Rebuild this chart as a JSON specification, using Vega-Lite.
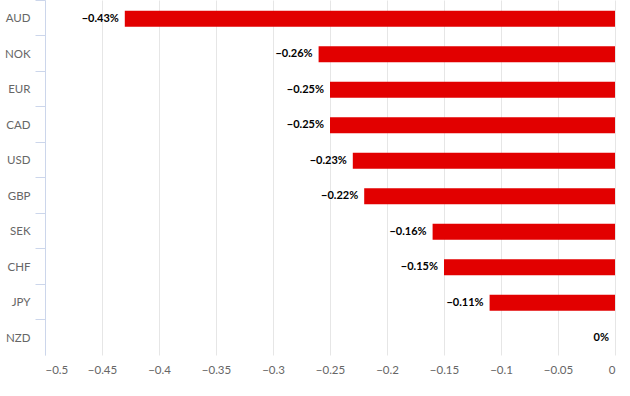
{
  "$schema": "https://vega.github.io/schema/vega-lite/v6.json",
  "width": 570,
  "height": 355,
  "autosize": "none",
  "padding": {"left": 45, "top": 0, "right": 15, "bottom": 41},
  "background": "#ffffff",
  "config": {
    "view": {"stroke": null},
    "font": "Lato"
  },
  "data": {
    "values": [
      {"currency": "AUD", "change": -0.43, "label": "−0.43%"},
      {"currency": "NOK", "change": -0.26, "label": "−0.26%"},
      {"currency": "EUR", "change": -0.25, "label": "−0.25%"},
      {"currency": "CAD", "change": -0.25, "label": "−0.25%"},
      {"currency": "USD", "change": -0.23, "label": "−0.23%"},
      {"currency": "GBP", "change": -0.22, "label": "−0.22%"},
      {"currency": "SEK", "change": -0.16, "label": "−0.16%"},
      {"currency": "CHF", "change": -0.15, "label": "−0.15%"},
      {"currency": "JPY", "change": -0.11, "label": "−0.11%"},
      {"currency": "NZD", "change": 0, "label": "0%"}
    ]
  },
  "encoding": {
    "y": {
      "field": "currency",
      "type": "nominal",
      "sort": null,
      "scale": {"paddingInner": 0, "paddingOuter": 0},
      "axis": {
        "title": null,
        "domainColor": "#ccd6eb",
        "tickColor": "#ccd6eb",
        "tickSize": 10,
        "bandPosition": 0,
        "labelFontSize": 11.5,
        "labelColor": "#666666",
        "labelPadding": 5,
        "labelOffset": 1.5,
        "grid": false
      }
    }
  },
  "layer": [
    {
      "mark": {"type": "bar", "color": "#e20000", "height": {"band": 0.45}, "yOffset": 1},
      "encoding": {
        "x": {
          "field": "change",
          "type": "quantitative",
          "scale": {"domain": [-0.5, 0], "nice": false, "zero": false},
          "axis": {
            "title": null,
            "values": [-0.5, -0.45, -0.4, -0.35, -0.3, -0.25, -0.2, -0.15, -0.1, -0.05, 0],
            "format": "~g",
            "domain": false,
            "ticks": false,
            "grid": true,
            "gridColor": "#e6e6e6",
            "labelFontSize": 11.5,
            "labelColor": "#666666",
            "labelPadding": 9
          }
        }
      }
    },
    {
      "mark": {"type": "text", "align": "right", "dx": -6, "dy": 1, "fontWeight": "bold", "fontSize": 11, "color": "#000000"},
      "encoding": {
        "x": {"field": "change", "type": "quantitative"},
        "text": {"field": "label"}
      }
    }
  ]
}
